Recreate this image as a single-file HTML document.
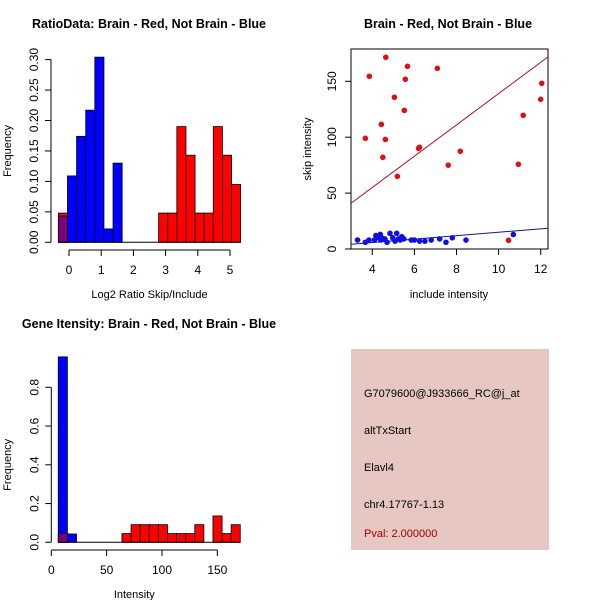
<!DOCTYPE html>
<html><head><meta charset="utf-8"><style>
html,body{margin:0;padding:0;background:#fff}
svg{display:block;font-family:"Liberation Sans",sans-serif}
</style></head><body>
<svg id="c" width="600" height="600" viewBox="0 0 600 600">
<rect width="600" height="600" fill="#fff"/>
<g>
<rect x="351" y="349" width="198" height="201" fill="#e6c7c1"/>
<g font-size="11" fill="#000">
<text x="364" y="397">G7079600@J933666_RC@j_at</text>
<text x="364" y="434">altTxStart</text>
<text x="364" y="471">Elavl4</text>
<text x="364" y="508">chr4.17767-1.13</text>
<text x="364" y="537" fill="#a00000">Pval: 2.000000</text>
</g></g>
</svg>
<script>
// ---- Panel 1: ratio histogram ----
const ratioBlue=[0.043,0.109,0.174,0.217,0.304,0.022,0.130,0,0,0,0,0,0,0,0,0,0,0,0,0];
const ratioRed=[0.048,0,0,0,0,0,0,0,0,0,0,0.048,0.048,0.190,0.143,0.048,0.048,0.190,0.143,0.095];
const ratioBinStart=-0.33, ratioBinWidth=0.283;
const ratioXTicks=[0,1,2,3,4,5];
const ratioYTicks=[0,0.05,0.10,0.15,0.20,0.25,0.30];
const ratioYLabels=["0.00","0.05","0.10","0.15","0.20","0.25","0.30"];
// ---- Panel 2: scatter ----
const redX=[3.67,3.86,4.64,4.43,4.50,4.62,5.05,5.19,5.52,5.57,5.67,6.20,6.24,7.09,7.61,8.18,10.47,10.94,11.17,12.0,12.05];
const redY=[99,154.5,171.5,111.5,82,98,135.7,65,124,151.8,163.4,90,91,161.6,75,87.4,7.8,75.8,119.6,133.9,148.2];
const blueX=[3.3,3.67,3.84,4.1,4.17,4.3,4.38,4.4,4.45,4.6,4.7,4.84,4.97,5.08,5.16,5.24,5.33,5.4,5.5,5.85,6.0,6.25,6.5,6.8,7.2,7.5,7.8,8.45,10.7];
const blueY=[8,6,8,8,12,10,13,8,10,9,6,14,10,7,14,9,8,11,9,8,8,7,7,8,9,6,10,8,13];
const redFit=[-1,14.0];
const blueFit=[-0.4,1.54];
const scatXTicks=[4,6,8,10,12];
const scatYTicks=[0,50,100,150];
// ---- Panel 3: intensity histogram ----
const intBlue=[0.957,0.043,0,0,0,0,0,0,0,0,0,0,0,0,0,0,0,0,0,0];
const intRed=[0.045,0,0,0,0,0,0,0.045,0.091,0.091,0.091,0.091,0.045,0.045,0.045,0.091,0,0.136,0.045,0.091];
const intBinStart=6.3, intBinWidth=8.22;
const intXTicks=[0,50,100,150];
const intYTicks=[0,0.2,0.4,0.6,0.8];
const intYLabels=["0.0","0.2","0.4","0.6","0.8"];

const svg=document.getElementById('c');
const NS='http://www.w3.org/2000/svg';
function mk(tag,attrs,parent,text){const e=document.createElementNS(NS,tag);for(const k in attrs)e.setAttribute(k,attrs[k]);if(text!==undefined)e.textContent=text;(parent||svg).appendChild(e);return e;}

function histogram(name,title,xlab,blue,red,b0,bw,sx,sy,xt,xtl,yt,ytl,axY,yAxX,titleX,titleY,axisXFrom,axisXTo){
  const g=mk('g',{});
  
  
  const t=mk('text',{x:titleX,y:titleY,'font-size':12.5,'font-weight':'bold','text-anchor':'middle'},g,title);
  
  
  for(let i=0;i<blue.length;i++){
    const x0=sx(b0+i*bw),x1=sx(b0+(i+1)*bw);
    const r=red[i],b=blue[i];
    if(r>0){const e=mk('rect',{x:x0,y:sy(r),width:x1-x0,height:sy(0)-sy(r),fill:'#ff0000',stroke:'#000','stroke-width':0.8},g);
      
      }
    if(b>0){const e=mk('rect',{x:x0,y:sy(b),width:x1-x0,height:sy(0)-sy(b),fill:'#0000ff',stroke:'#000','stroke-width':0.8},g);
      
      }
    if(r>0&&b>0){const m=Math.min(r,b);const e=mk('rect',{x:x0,y:sy(m),width:x1-x0,height:sy(0)-sy(m),fill:'#7f007f',stroke:'#000','stroke-width':0.8},g);
      
      }
  }
  const base=mk('line',{x1:sx(b0),x2:sx(b0+blue.length*bw),y1:sy(0),y2:sy(0),stroke:'#000'},g);
  
  
  const xa=mk('g',{stroke:'#000'},g);
  
  
  mk('line',{x1:axisXFrom,x2:axisXTo,y1:axY,y2:axY},xa);
  xt.forEach((v,i)=>{mk('line',{x1:sx(v),x2:sx(v),y1:axY,y2:axY+6},xa);
    const l=mk('text',{x:sx(v),y:axY+24,'font-size':12,'text-anchor':'middle',stroke:'none'},xa,xtl[i]);
    
    });
  const ya=mk('g',{stroke:'#000'},g);
  
  
  mk('line',{x1:yAxX,x2:yAxX,y1:sy(yt[0]),y2:sy(yt[yt.length-1])},ya);
  yt.forEach((v,i)=>{mk('line',{x1:yAxX-6,x2:yAxX,y1:sy(v),y2:sy(v)},ya);
    const l=mk('text',{x:yAxX-13,y:sy(v),'font-size':12,'text-anchor':'middle',stroke:'none',transform:`rotate(-90 ${yAxX-13} ${sy(v)})`},ya,ytl[i]);
    
    });
  const xl=mk('text',{x:(axisXFrom+axisXTo)/2,y:axY+48,'font-size':11,'text-anchor':'middle'},g,xlab);
  
  
  const yy=sy((yt[0]+yt[yt.length-1])/2);
  const yl=mk('text',{x:11,y:yy,'font-size':11,'text-anchor':'middle',transform:`rotate(-90 11 ${yy})`},g,'Frequency');
  
  
}

// Panel 1
{const sx=v=>69+32.2*v, sy=v=>242.3-609*v;
histogram('ratio-histogram','RatioData: Brain - Red, Not Brain - Blue','Log2 Ratio Skip/Include',ratioBlue,ratioRed,ratioBinStart,ratioBinWidth,sx,sy,ratioXTicks,ratioXTicks.map(String),ratioYTicks,ratioYLabels,250,51,149,28,69,230);}
// Panel 3
{const sx=v=>51.3+1.107*v, sy=v=>542.3-193.75*v;
histogram('intensity-histogram','Gene Itensity: Brain - Red, Not Brain - Blue','Intensity',intBlue,intRed,intBinStart,intBinWidth,sx,sy,intXTicks,intXTicks.map(String),intYTicks,intYLabels,550,51.3,149,328,51.3,217.3);}

// Panel 2
{const sx=v=>372.3+(v-4)*21.05, sy=v=>249-1.118*v;
const g=mk('g',{});


const t=mk('text',{x:448,y:28,'font-size':12.5,'font-weight':'bold','text-anchor':'middle'},g,'Brain - Red, Not Brain - Blue');


const box=mk('rect',{x:351,y:49,width:197,height:200,fill:'none',stroke:'#000'},g);


const cp=mk('clipPath',{id:'cp'},g);mk('rect',{x:351,y:49,width:197,height:200},cp);
const xmin=(351-372.3)/21.05+4, xmax=(548-372.3)/21.05+4;
const rl=mk('line',{x1:sx(xmin),y1:sy(redFit[0]+redFit[1]*xmin),x2:sx(xmax),y2:sy(redFit[0]+redFit[1]*xmax),stroke:'#b0102a','stroke-width':1,'clip-path':'url(#cp)'},g);


const bl=mk('line',{x1:sx(xmin),y1:sy(blueFit[0]+blueFit[1]*xmin),x2:sx(xmax),y2:sy(blueFit[0]+blueFit[1]*xmax),stroke:'#1010b0','stroke-width':1,'clip-path':'url(#cp)'},g);


blueX.forEach((x,i)=>{const p=mk('circle',{cx:sx(x),cy:sy(blueY[i]),r:2.8,fill:'#1010e0'},g);
  
  });
redX.forEach((x,i)=>{const p=mk('circle',{cx:sx(x),cy:sy(redY[i]),r:2.8,fill:'#e01010'},g);
  
  });
const xa=mk('g',{stroke:'#000'},g);


scatXTicks.forEach(v=>{mk('line',{x1:sx(v),x2:sx(v),y1:249,y2:255},xa);
  const l=mk('text',{x:sx(v),y:273,'font-size':12,'text-anchor':'middle',stroke:'none'},xa,String(v));
  
  });
const ya=mk('g',{stroke:'#000'},g);


scatYTicks.forEach(v=>{mk('line',{x1:345,x2:351,y1:sy(v),y2:sy(v)},ya);
  const l=mk('text',{x:336,y:sy(v),'font-size':12,'text-anchor':'middle',stroke:'none',transform:`rotate(-90 336 ${sy(v)})`},ya,String(v));
  
  });
const xl=mk('text',{x:449,y:298,'font-size':11,'text-anchor':'middle'},g,'include intensity');


const yl=mk('text',{x:311,y:149,'font-size':11,'text-anchor':'middle',transform:'rotate(-90 311 149)'},g,'skip intensity');


}
</script>
</body></html>
